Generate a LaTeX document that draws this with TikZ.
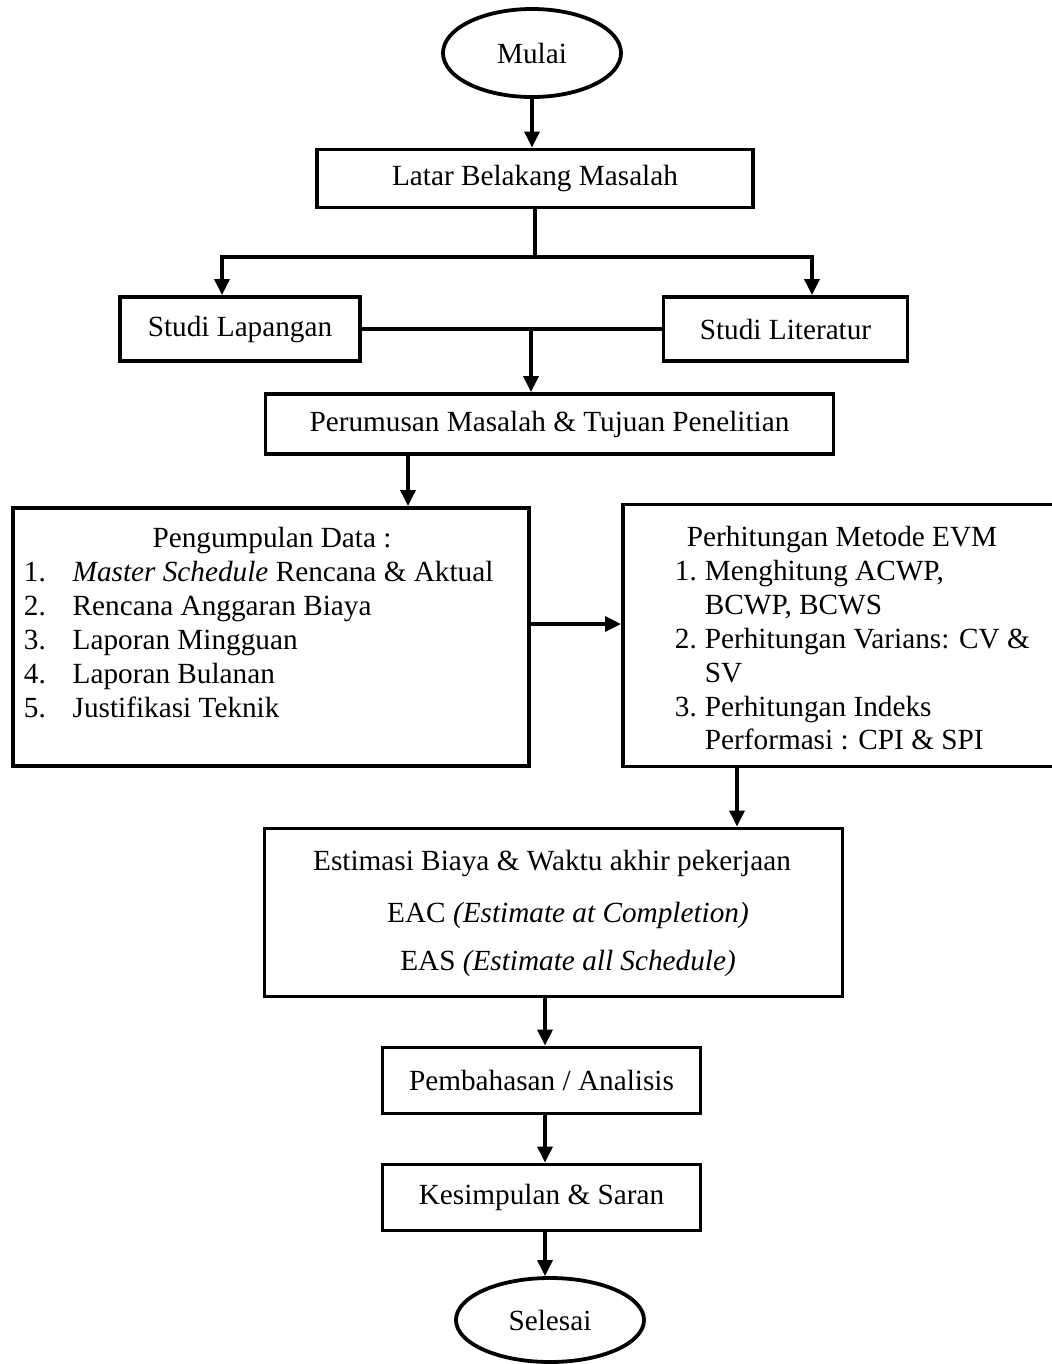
\documentclass[tikz,border=0pt]{standalone}
\usepackage{fontspec}
\setmainfont{Liberation Serif}
\usetikzlibrary{arrows.meta}
\usetikzlibrary{shapes.geometric}

\begin{document}
\begin{tikzpicture}[
            x = 0.025cm, y = -0.025cm, % one unit is one pixel, y runs down
            > = {Triangle[length=0.4cm, width=0.37cm]}, % arrow head style
            line width = 2.7pt,
            font = \fontsize{20.8}{24.1}\selectfont
        ]

        \tikzstyle{box}=[
            draw,
            rectangle,
            inner sep = 0pt,
            line width = 2.7pt
        ]
        \tikzstyle{terminal}=[
            draw,
            ellipse,
            inner sep = 0pt,
            line width = 2.7pt
        ]

        \useasboundingbox (0,0) rectangle (1052,1364);

        % start and background
        \node[terminal, minimum width=4.45cm, minimum height=2.2cm] (mulai) at (532,53) {Mulai};
        \node[box, minimum width=10.9cm, minimum height=1.45cm] (latar) at (535,178.5) {Latar Belakang Masalah};
        \node[box, minimum width=6cm, minimum height=1.6cm] (lap) at (240,329) {Studi Lapangan};
        \node[box, minimum width=6.1cm, minimum height=1.6cm] (lit) at (785.5,329) {Studi Literatur};
        \node[box, minimum width=14.2cm, minimum height=1.5cm] (rumus) at (549.5,424) {Perumusan Masalah \& Tujuan Penelitian};

        \draw[->] (mulai.south) -- (mulai.south |- latar.north);
        \coordinate (split) at (535,257);
        \coordinate (splitL) at (222,257);
        \coordinate (splitR) at (812,257);
        \draw (latar.south) -- (split);
        \draw[<->] (splitL |- lap.north) |- (split) -| (splitR |- lit.north);
        \draw (lap.east) -- (lit.west);
        \coordinate (join) at (531,329);
        \draw[->] (join) -- (join |- rumus.north);

        % data and EVM
        \node[box, minimum width=12.9cm, minimum height=6.45cm] (pd) at (271,637) {};
        \node[anchor=base] (pdtitle) at (272,547) {Pengumpulan Data :};
        \node[anchor=north west, inner sep=0pt] (pdlist) at (22,556) {%
            \begin{tabular}{@{}p{1.22cm}@{}l@{}}
            1. & \textit{Master Schedule} Rencana \& Aktual\\
            2. & Rencana Anggaran Biaya\\
            3. & Laporan Mingguan\\
            4. & Laporan Bulanan\\
            5. & Justifikasi Teknik
            \end{tabular}};

        \node[box, minimum width=11.3cm, minimum height=6.55cm] (evm) at (849,635.5) {};
        \node[anchor=north west, inner sep=0pt] (evmlist) at (673,521) {%
            \begin{tabular}{@{}p{0.75cm}@{}l@{}}
            \multicolumn{2}{@{}l@{}}{\hspace{0.3cm}Perhitungan Metode EVM}\\
            1. & Menghitung ACWP,\\
               & BCWP, BCWS\\
            2. & Perhitungan Varians: CV \&\\
               & SV\\
            3. & Perhitungan Indeks\\
               & Performasi : CPI \& SPI
            \end{tabular}};

        \coordinate (a1) at (408,0);
        \draw[->] (a1 |- rumus.south) -- (a1 |- pd.north);
        \coordinate (a2) at (0,624);
        \draw[->] (a2 -| pd.east) -- (a2 -| evm.west);

        % estimate
        \node[box, minimum width=14.45cm, minimum height=4.2cm] (est) at (553.5,912.5) {};
        \node[anchor=base] (est1) at (552,870) {Estimasi Biaya \& Waktu akhir pekerjaan};
        \node[anchor=base] (est2) at (568,922) {EAC \textit{(Estimate at Completion)}};
        \node[anchor=base] (est3) at (568,970) {EAS \textit{(Estimate all Schedule)}};

        \coordinate (a3) at (737,0);
        \draw[->] (a3 |- evm.south) -- (a3 |- est.north);

        % closing
        \node[box, minimum width=7.95cm, minimum height=1.65cm] (bahas) at (541.5,1080.5) {Pembahasan / Analisis};
        \node[box, minimum width=7.95cm, minimum height=1.65cm] (simpul) at (541.5,1197.5) {Kesimpulan \& Saran};
        \node[terminal, minimum width=4.7cm, minimum height=2.1cm] (selesai) at (550,1320) {Selesai};

        \coordinate (a4) at (545,0);
        \draw[->] (a4 |- est.south) -- (a4 |- bahas.north);
        \draw[->] (a4 |- bahas.south) -- (a4 |- simpul.north);
        \draw[->] (a4 |- simpul.south) -- (a4 |- selesai.north);

\end{tikzpicture}
\end{document}
